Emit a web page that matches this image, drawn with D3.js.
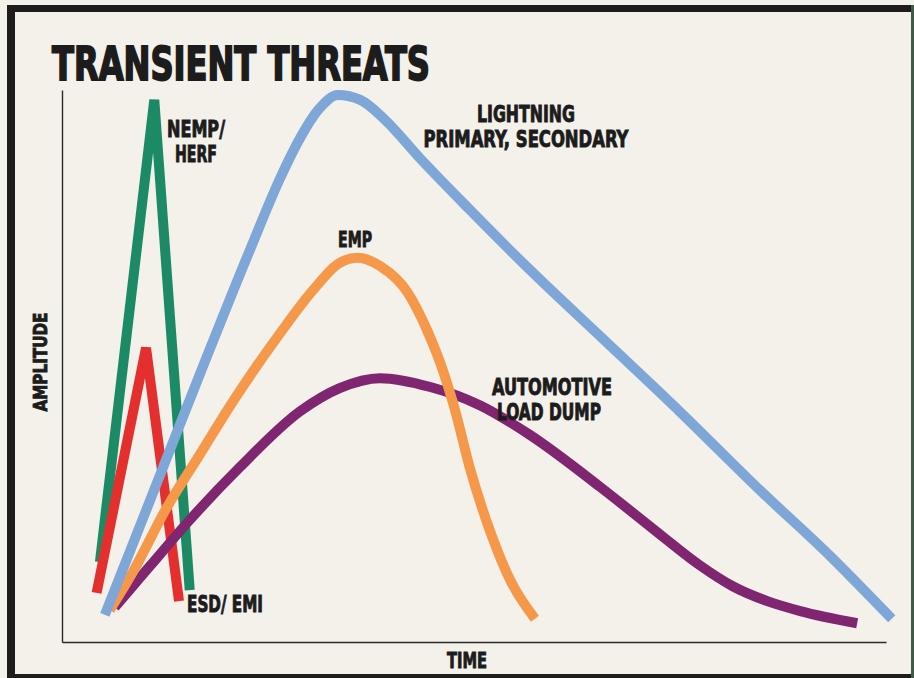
<!DOCTYPE html>
<html>
<head>
<meta charset="utf-8">
<script src="https://cdn.jsdelivr.net/npm/d3@7"></script>
<style>
  html, body { margin: 0; padding: 0; background: #f4f1ea; }
  svg { display: block; }
  .lbl { font-family: "Liberation Sans Narrow", "DejaVu Sans Condensed", "Roboto", sans-serif; font-weight: bold; fill: #1c1c1c; stroke: #1c1c1c; }
</style>
</head>
<body>
<svg id="chart" width="914" height="678"></svg>
<script>
// Transient waveform shapes: [time, amplitude] on a relative 0–100 scale
const esdEmi = [[4.2, 8.9], [10.2, 53.3], [14.2, 7.4]];
const nempHerf = [[4.6, 14.5], [11.2, 98.2], [15.5, 9.4]];
const lightning = [
  [5.2, 4.9], [10.7, 25.7], [16.7, 48.4], [22.8, 71.0], [26.5, 84.1], [28.9, 91.3],
  [31.1, 96.4], [33.5, 99.1], [36.2, 98.2], [39.2, 94.6], [43.4, 87.7], [49.5, 78.3],
  [56.8, 67.4], [65.3, 55.4], [75.0, 41.7], [84.7, 27.5], [93.2, 15.6], [100.7, 4.2]
];
const emp = [
  [5.8, 5.8], [8.6, 12.7], [12.7, 24.3], [16.7, 33.9], [20.8, 43.7], [26.5, 56.0],
  [30.5, 63.8], [33.7, 68.7], [35.9, 69.6], [38.6, 68.1], [41.9, 63.4], [44.3, 56.5],
  [46.2, 49.3], [47.7, 42.0], [49.5, 31.5], [51.9, 20.3], [54.4, 11.2], [57.4, 4.2]
];
const loadDump = [
  [6.4, 6.3], [10.7, 13.8], [15.5, 22.1], [21.6, 31.7], [28.9, 41.8], [33.7, 46.0],
  [38.6, 47.8], [44.7, 46.2], [50.7, 42.9], [56.8, 37.5], [65.3, 28.1], [69.3, 23.4],
  [73.4, 18.5], [77.4, 13.9], [81.4, 10.1], [85.6, 7.4], [89.6, 5.6], [96.5, 3.4]
];

const titleText = "TRANSIENT THREATS";
const xTitle = "TIME";
const yTitle = "AMPLITUDE";

const svg = d3.select("#chart");
const W = 914, H = 678;

// paper
svg.append("rect").attr("width", W).attr("height", H).attr("fill", "#f4f1ea");

// heavy frame
const frame = svg.append("g").attr("fill", "#1e1d1c");
frame.append("rect").attr("x", 7).attr("y", 5).attr("width", 8).attr("height", H - 5);
frame.append("rect").attr("x", 7).attr("y", 5).attr("width", W - 7).attr("height", 7);
frame.append("rect").attr("x", 7).attr("y", 674).attr("width", W - 7).attr("height", 4);
frame.append("rect").attr("x", 911).attr("y", 5).attr("width", 3).attr("height", H - 5).attr("fill", "#3f5a48");

// scales
const x = d3.scaleLinear().domain([0, 100]).range([62, 886]);
const y = d3.scaleLinear().domain([0, 100]).range([642, 90]);

// axes (plain lines, no ticks)
svg.append("g").attr("transform", `translate(0,${y(0)})`)
  .call(d3.axisBottom(x).ticks(0).tickSize(0).tickSizeOuter(0))
  .call(g => g.select(".domain").attr("stroke", "#2a2a2a").attr("stroke-width", 1.4));
svg.append("g").attr("transform", `translate(${x(0)},0)`)
  .call(d3.axisLeft(y).ticks(0).tickSize(0).tickSizeOuter(0))
  .call(g => g.select(".domain").attr("stroke", "#2a2a2a").attr("stroke-width", 1.4));

// waveforms
const sharp = d3.line().x(d => x(d[0])).y(d => y(d[1]));
const smooth = d3.line().x(d => x(d[0])).y(d => y(d[1])).curve(d3.curveMonotoneX);

const series = [
  { data: nempHerf, color: "#1d8a66", gen: sharp },
  { data: esdEmi, color: "#e3302f", gen: sharp },
  { data: loadDump, color: "#80256f", gen: smooth },
  { data: emp, color: "#f6984a", gen: smooth },
  { data: lightning, color: "#7ea7d8", gen: smooth }
];

svg.append("g").selectAll("path").data(series).join("path")
  .attr("d", s => s.gen(s.data))
  .attr("fill", "none")
  .attr("stroke", s => s.color)
  .attr("stroke-width", 10)
  .attr("stroke-linecap", "butt")
  .attr("stroke-linejoin", "miter");

// text
function label(txt, px, py, size, len, anchor, sw) {
  return svg.append("text").attr("class", "lbl")
    .attr("x", px).attr("y", py)
    .attr("font-size", size)
    .attr("text-anchor", anchor || "start")
    .attr("textLength", len).attr("lengthAdjust", "spacingAndGlyphs")
    .attr("stroke-width", sw == null ? 0.9 : sw)
    .text(txt);
}

label(titleText, 52, 80, 46, 378, "start", 1.8);
label("NEMP/", 196, 137, 23, 58, "middle");
label("HERF", 196, 162, 23, 42, "middle");
label("LIGHTNING", 526, 122, 23, 98, "middle");
label("PRIMARY, SECONDARY", 526, 147, 23, 205, "middle");
label("EMP", 355, 247, 22, 34, "middle");
label("AUTOMOTIVE", 552, 395, 23, 120, "middle");
label("LOAD DUMP", 549, 420, 23, 104, "middle");
label("ESD/ EMI", 187, 612, 23, 76, "start");
label(xTitle, 467, 668, 21, 40, "middle");
label(yTitle, 0, 0, 20, 99, "middle")
  .attr("transform", "translate(47,362) rotate(-90)");
</script>
</body>
</html>
